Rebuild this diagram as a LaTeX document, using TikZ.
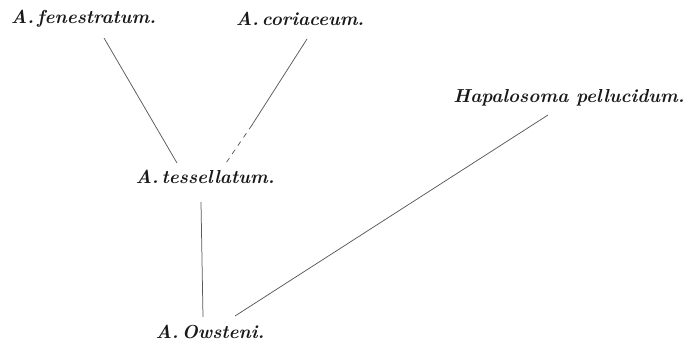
\documentclass[tikz,border=0pt]{standalone}
\usetikzlibrary{calc}
\begin{document}
\begin{tikzpicture}[x=1pt,y=-1pt,
  taxon/.style={font=\fontsize{18.8}{22}\selectfont\itshape\bfseries, text=black!90, inner sep=0pt},
  link/.style={draw=black!65, line width=0.75pt},
  dashlink/.style={link, dash pattern=on 5pt off 5pt}]
\useasboundingbox (0,0) rectangle (685,345);
\node[taxon] (fen) at (83.5,19) {A.\,fenestratum.};
\node[taxon] (cor) at (300,19) {A.\,coriaceum.};
\node[taxon] (hap) at (569,98) {Hapalosoma pellucidum.};
\node[taxon] (tes) at (205,177) {A.\,tessellatum.};
\node[taxon] (ows) at (210,332) {A.\,Owsteni.};
\coordinate (f1) at (104,38);
\coordinate (t1) at (177,163);
\coordinate (c1) at (307,39);
\coordinate (cm) at (252,125);
\coordinate (t2) at (226,163);
\coordinate (t3) at (201,202);
\coordinate (o1) at (203,317);
\coordinate (h1) at (548,115);
\coordinate (o2) at (235,316);
\draw[link] (f1) -- (t1);
\draw[link] (c1) -- (cm);
\draw[dashlink] (cm) -- (t2);
\draw[link] (t3) -- (o1);
\draw[link] (h1) -- (o2);
\end{tikzpicture}
\end{document}
